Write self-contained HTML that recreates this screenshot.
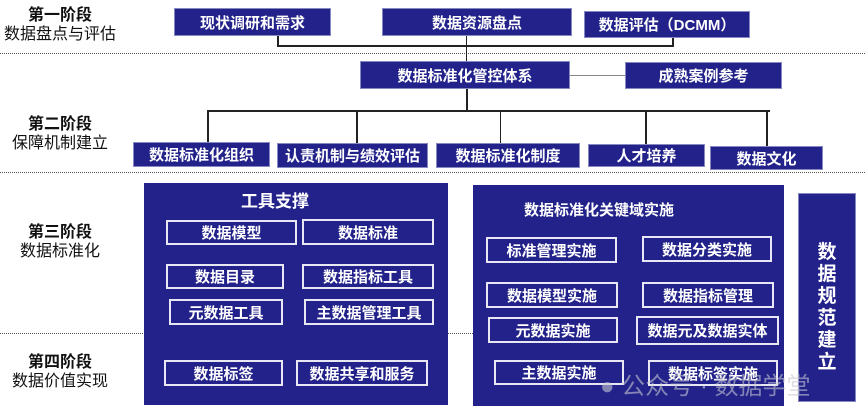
<!DOCTYPE html>
<html><head><meta charset="utf-8"><style>
body{margin:0;width:865px;height:415px;background:#fff;position:relative;overflow:hidden;font-family:"Liberation Sans","Noto Sans CJK SC",sans-serif}
.b{position:absolute;background:#22228a;color:#fff;font-weight:bold;font-size:15px;display:flex;align-items:center;justify-content:center;box-sizing:border-box;border:1px solid #8888c0;white-space:nowrap}
.i{position:absolute;border:2px solid #e8e8f4;color:#fff;font-weight:bold;font-size:15px;display:flex;align-items:center;justify-content:center;box-sizing:border-box;white-space:nowrap}
.p{position:absolute;background:#22228a;}
.l{position:absolute;background:#222}
.d{position:absolute;height:0;border-top:1px dotted #555}
.s{position:absolute;text-align:center;color:#111;font-size:16px;line-height:19px}
</style></head><body>
<div class="d" style="left:0;top:53px;width:865px"></div>
<div class="d" style="left:0;top:172px;width:865px"></div>
<div class="d" style="left:0;top:333px;width:145px"></div>
<div class="d" style="left:448px;top:333px;width:25px"></div>

<div class="s" style="left:0;top:6px;width:120px"><b>第一阶段</b><br>数据盘点与评估</div>
<div class="s" style="left:0;top:115px;width:120px"><b>第二阶段</b><br>保障机制建立</div>
<div class="s" style="left:0;top:223px;width:120px"><b>第三阶段</b><br>数据标准化</div>
<div class="s" style="left:0;top:353px;width:120px"><b>第四阶段</b><br>数据价值实现</div>

<div class="l" style="left:277px;top:36px;width:2px;height:10px"></div>
<div class="l" style="left:672px;top:38px;width:2px;height:8px"></div>
<div class="l" style="left:277px;top:45px;width:397px;height:2px"></div>
<div class="l" style="left:466px;top:35px;width:1px;height:27px"></div>
<div class="l" style="left:570px;top:75px;width:56px;height:1px;background:#888"></div>
<div class="l" style="left:466px;top:88px;width:2px;height:23px"></div>
<div class="l" style="left:207px;top:110px;width:563px;height:2px"></div>
<div class="l" style="left:207px;top:110px;width:2px;height:33px"></div>
<div class="l" style="left:356px;top:110px;width:2px;height:33px"></div>
<div class="l" style="left:500px;top:110px;width:1px;height:33px"></div>
<div class="l" style="left:645px;top:110px;width:2px;height:34px"></div>
<div class="l" style="left:766px;top:110px;width:2px;height:36px"></div>

<div class="b" style="left:174px;top:8px;width:157px;height:28px">现状调研和需求</div>
<div class="b" style="left:382px;top:8px;width:190px;height:28px">数据资源盘点</div>
<div class="b" style="left:584px;top:11px;width:166px;height:27px">数据评估（DCMM）</div>
<div class="b" style="left:360px;top:61px;width:210px;height:28px">数据标准化管控体系</div>
<div class="b" style="left:625px;top:62px;width:157px;height:27px">成熟案例参考</div>
<div class="b" style="left:133px;top:142px;width:137px;height:25px">数据标准化组织</div>
<div class="b" style="left:277px;top:143px;width:151px;height:25px">认责机制与绩效评估</div>
<div class="b" style="left:436px;top:143px;width:144px;height:25px">数据标准化制度</div>
<div class="b" style="left:588px;top:144px;width:117px;height:23px">人才培养</div>
<div class="b" style="left:710px;top:146px;width:113px;height:24px">数据文化</div>

<div class="p" style="left:144px;top:183px;width:304px;height:222px"></div>
<div style="position:absolute;left:144px;top:187px;width:262px;text-align:center;color:#fff;font-weight:bold;font-size:17px">工具支撑</div>
<div class="i" style="left:166px;top:220px;width:131px;height:25px">数据模型</div>
<div class="i" style="left:302px;top:219px;width:132px;height:26px">数据标准</div>
<div class="i" style="left:166px;top:264px;width:118px;height:25px">数据目录</div>
<div class="i" style="left:302px;top:264px;width:132px;height:25px">数据指标工具</div>
<div class="i" style="left:169px;top:299px;width:114px;height:26px">元数据工具</div>
<div class="i" style="left:304px;top:299px;width:130px;height:26px">主数据管理工具</div>
<div class="i" style="left:164px;top:360px;width:119px;height:26px">数据标签</div>
<div class="i" style="left:296px;top:360px;width:132px;height:26px">数据共享和服务</div>

<div class="p" style="left:473px;top:185px;width:311px;height:221px"></div>
<div style="position:absolute;left:473px;top:199px;width:252px;text-align:center;color:#fff;font-weight:bold;font-size:15px">数据标准化关键域实施</div>
<div class="i" style="left:486px;top:237px;width:131px;height:26px">标准管理实施</div>
<div class="i" style="left:642px;top:236px;width:130px;height:26px">数据分类实施</div>
<div class="i" style="left:486px;top:282px;width:132px;height:26px">数据模型实施</div>
<div class="i" style="left:642px;top:282px;width:132px;height:26px">数据指标管理</div>
<div class="i" style="left:488px;top:317px;width:130px;height:26px">元数据实施</div>
<div class="i" style="left:636px;top:316px;width:143px;height:29px">数据元及数据实体</div>
<div class="i" style="left:494px;top:360px;width:130px;height:25px">主数据实施</div>
<div class="i" style="left:648px;top:360px;width:130px;height:26px">数据标签实施</div>

<div class="p" style="left:798px;top:193px;width:58px;height:209px;border:1px solid #8888c0;box-sizing:border-box"></div>
<div style="position:absolute;left:798px;top:242px;width:58px;text-align:center;color:#fff;font-weight:bold;font-size:19px;line-height:22px">数<br>据<br>规<br>范<br>建<br>立</div>

<div style="position:absolute;left:600px;top:366px;font-size:24px;color:rgba(200,200,210,0.6);white-space:nowrap">● 公众号 · 数据学堂</div>
</body></html>
